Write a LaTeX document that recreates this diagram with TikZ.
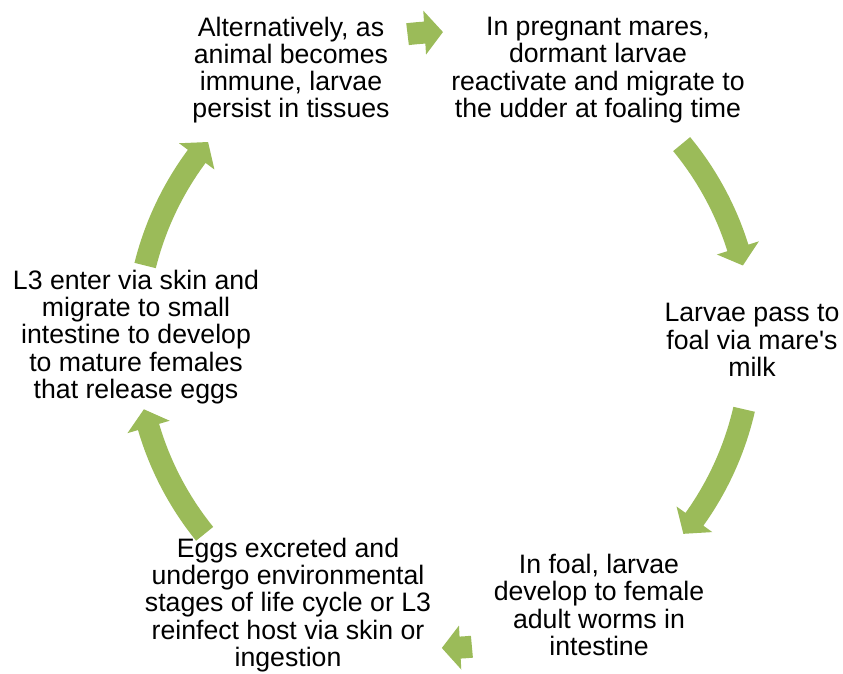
\documentclass[tikz,border=0pt]{standalone}
\usepackage{fontspec}
\setmainfont{Liberation Sans}
\usepackage{xcolor}
\usetikzlibrary{positioning}
\definecolor{cyclegreen}{RGB}{155,187,89}

% curved block arrow on the cycle: start angle, tip angle
\newcommand{\cyclearrow}[2]{%
  \pgfmathsetmacro{\headbase}{#2+3.4}
  \fill[cyclegreen] (#1:319) arc[start angle=#1, end angle=\headbase, radius=319]
    -- (\headbase:330) -- (#2:308) -- (\headbase:286) -- (\headbase:297)
    arc[start angle=\headbase, end angle=#1, radius=297] -- cycle;
}

\begin{document}
\begin{tikzpicture}[x=0.75pt, y=-0.75pt,
  stage/.style={align=center, inner sep=0pt, font=\fontsize{20}{20.4}\selectfont}]
\useasboundingbox (0,0) rectangle (843,674);
% Nodes
\node[stage] (persist) at (291,70) {Alternatively, as\\animal becomes\\immune, larvae\\persist in tissues};
\node[stage] (udder) at (598,70) {In pregnant mares,\\dormant larvae\\reactivate and migrate to\\the udder at foaling time};
\node[stage] (milk) at (752,340) {Larvae pass to\\foal via mare\textquotesingle s\\milk};
\node[stage] (foal) at (599,605) {In foal, larvae\\develop to female\\adult worms in\\intestine};
\node[stage] (eggs) at (288,605) {Eggs excreted and\\undergo environmental\\stages of life cycle or L3\\reinfect host via skin or\\ingestion};
\node[stage] (enter) at (136,337) {L3 enter via skin and\\migrate to small\\intestine to develop\\to mature females\\that release eggs};

% Arrows
\begin{scope}[shift={(444,340)}, yscale=-1]
\cyclearrow{96.8}{90.2}
\cyclearrow{39.5}{14}
\cyclearrow{-13}{-39}
\cyclearrow{-84.8}{-90.4}
\cyclearrow{219}{193}
\cyclearrow{166}{140}
\end{scope}
\end{tikzpicture}
\end{document}
